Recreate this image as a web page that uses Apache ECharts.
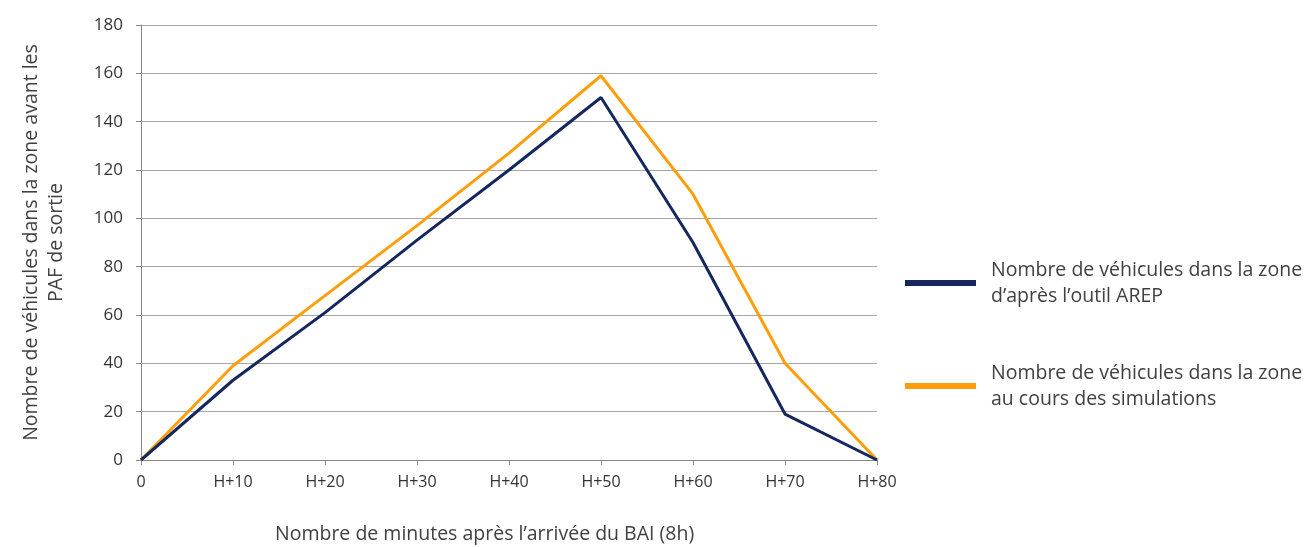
<!DOCTYPE html>
<html>
<head>
<meta charset="utf-8">
<script src="https://cdn.jsdelivr.net/npm/echarts@6/dist/echarts.min.js"></script>
<style>html,body{margin:0;padding:0;background:#fff;}#c{width:1316px;height:547px;}</style>
</head>
<body>
<div id="c"></div>
<script>
const categories = ['0', 'H+10', 'H+20', 'H+30', 'H+40', 'H+50', 'H+60', 'H+70', 'H+80'];
const arepValues = [0, 33, 61, 91, 120, 150, 90, 19, 0];
const simValues = [0, 39, 68, 97, 127, 159, 110, 40, 0];
const seriesNames = ['Nombre de véhicules dans la zone\nd\u2019après l\u2019outil AREP', 'Nombre de véhicules dans la zone\nau cours des simulations'];
const yAxisName = 'Nombre de véhicules dans la zone avant les\nPAF de sortie';
const xAxisName = 'Nombre de minutes après l\u2019arrivée du BAI (8h)';

const FONT = '"Open Sans", "Noto Sans", sans-serif';
const chart = echarts.init(document.getElementById('c'));
chart.setOption({
  animation: false,
  backgroundColor: '#ffffff',
  grid: { left: 141, right: 439, top: 25, bottom: 87 },
  legend: {
    orient: 'vertical',
    left: 900,
    top: 252,
    itemWidth: 71,
    itemHeight: 6,
    itemGap: 51,
    icon: 'rect',
    data: seriesNames,
    textStyle: { fontFamily: FONT, fontSize: 19.5, color: '#404040', lineHeight: 26, padding: [0, 0, 0, 10] }
  },
  graphic: [{
    type: 'text',
    left: 275,
    top: 524,
    style: { text: xAxisName, fontFamily: FONT, fontSize: 19.5, fill: '#404040' }
  }],
  xAxis: {
    type: 'category',
    data: categories,
    boundaryGap: false,
    axisLine: { lineStyle: { color: '#888', width: 1 } },
    axisTick: { show: true, length: 5, lineStyle: { color: '#888' } },
    axisLabel: { fontFamily: FONT, fontSize: 16, color: '#333', margin: 14 },
    splitLine: { show: false }
  },
  yAxis: {
    type: 'value',
    min: 0, max: 180, interval: 20,
    name: yAxisName,
    nameLocation: 'middle',
    nameGap: 72,
    nameTextStyle: { fontFamily: FONT, fontSize: 19.5, color: '#404040', lineHeight: 25 },
    axisLine: { show: true, lineStyle: { color: '#888', width: 1 } },
    axisTick: { show: true, length: 5, lineStyle: { color: '#888' } },
    axisLabel: { fontFamily: FONT, fontSize: 17, color: '#333', margin: 18 },
    splitLine: { lineStyle: { color: '#a6a6a6', width: 1 } }
  },
  series: [
    { name: seriesNames[0], type: 'line', data: arepValues, showSymbol: false, symbol: 'none',
      lineStyle: { color: '#14285f', width: 3 }, itemStyle: { color: '#14285f' }, z: 3 },
    { name: seriesNames[1], type: 'line', data: simValues, showSymbol: false, symbol: 'none',
      lineStyle: { color: '#ff9e0b', width: 3 }, itemStyle: { color: '#ff9e0b' }, z: 2 }
  ]
});
</script>
</body>
</html>
